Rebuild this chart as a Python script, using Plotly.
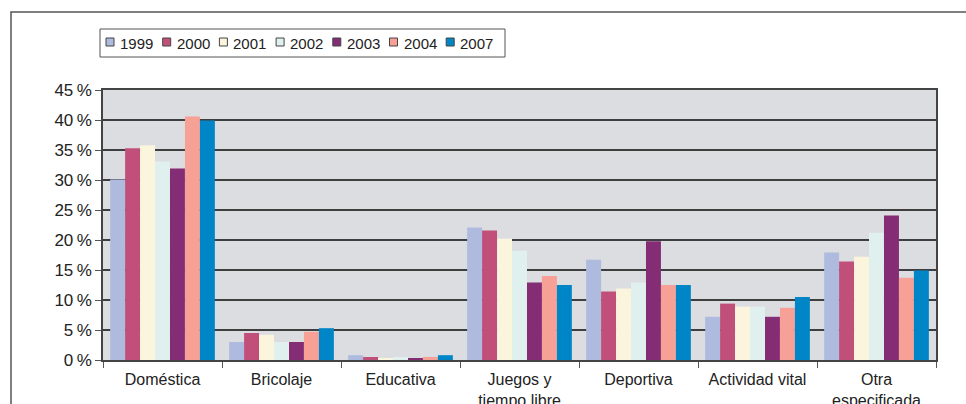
import plotly.graph_objects as go

categories = ['Doméstica', 'Bricolaje', 'Educativa', 'Juegos y<br>tiempo libre',
              'Deportiva', 'Actividad vital', 'Otra<br>especificada']
years = ['1999', '2000', '2001', '2002', '2003', '2004', '2007']

v1999 = [30.1, 3.0, 0.8, 22.1, 16.7, 7.2, 17.9]
v2000 = [35.3, 4.5, 0.5, 21.6, 11.4, 9.4, 16.4]
v2001 = [35.8, 4.2, 0.3, 20.2, 11.9, 8.9, 17.2]
v2002 = [33.1, 3.0, 0.5, 18.2, 12.9, 8.9, 21.2]
v2003 = [31.9, 3.0, 0.3, 12.9, 19.8, 7.2, 24.1]
v2004 = [40.6, 4.7, 0.5, 14.0, 12.5, 8.7, 13.7]
v2007 = [39.9, 5.3, 0.8, 12.5, 12.5, 10.5, 14.9]
series = [v1999, v2000, v2001, v2002, v2003, v2004, v2007]

colors = ['#aebbdf', '#c0507a', '#faf5dc', '#e0f0ee', '#842c74', '#f6a096', '#0085c7']

y_ticks = [0, 5, 10, 15, 20, 25, 30, 35, 40, 45]
y_labels = [f'{v}\u2009%' for v in y_ticks]

# plot area in pixels
W, H = 966, 404
L, R, T, B = 103, 936, 90, 360
FONT = 'Liberation Sans, Arial, sans-serif'


def px(x):
    return (x - L) / (R - L)


def py(y):
    return (B - y) / (B - T)


fig = go.Figure()
for name, vals, col in zip(years, series, colors):
    fig.add_trace(go.Bar(x=categories, y=vals, name=name,
                         marker=dict(color=col, line=dict(width=0))))

# custom legend (plotly's own legend is much wider than the original)
shapes = [
    dict(type='rect', xref='paper', yref='paper',
         x0=px(11), x1=px(990), y0=py(430), y1=py(12),
         line=dict(color='#555555', width=1.5), fillcolor='rgba(0,0,0,0)', layer='above'),
    dict(type='rect', xref='paper', yref='paper',
         x0=px(100), x1=px(505), y0=py(57), y1=py(29),
         line=dict(color='#555555', width=1), fillcolor='white', layer='above'),
]
annotations = []
for i, (name, col) in enumerate(zip(years, colors)):
    sx = 106 + i * 56.7
    shapes.append(dict(type='rect', xref='paper', yref='paper',
                       x0=px(sx), x1=px(sx + 8), y0=py(46), y1=py(38),
                       line=dict(color='#444444', width=1), fillcolor=col, layer='above'))
    annotations.append(dict(text=name, xref='paper', yref='paper',
                            x=px(sx + 12), y=py(43), xanchor='left', yanchor='middle',
                            showarrow=False, font=dict(size=15, color='#222222', family=FONT)))

fig.update_layout(
    width=W, height=H,
    margin=dict(l=L, r=W - R, t=T, b=H - B, pad=0),
    paper_bgcolor='white',
    plot_bgcolor='#dcdde0',
    barmode='group',
    bargap=0.12,
    bargroupgap=0,
    showlegend=False,
    font=dict(family=FONT, color='#222222'),
    shapes=shapes,
    annotations=annotations,
    xaxis=dict(
        tickson='boundaries', ticks='outside', ticklen=6, tickcolor='#555555',
        showline=True, linecolor='#444444', linewidth=1.5, mirror=True,
        showgrid=False, automargin=False, ticklabelstandoff=4,
        tickfont=dict(size=16, color='#222222'),
    ),
    yaxis=dict(
        range=[0, 45], tickvals=y_ticks, ticktext=y_labels,
        ticks='outside', ticklen=6, tickcolor='#555555',
        showline=True, linecolor='#444444', linewidth=1.5, mirror=True,
        gridcolor='#3e3e3e', gridwidth=1.5, zeroline=False, automargin=False,
        tickfont=dict(size=17, color='#222222'),
    ),
)

fig.write_html('out.html', config={'displayModeBar': False},
               post_script="document.body.style.margin='0';")
